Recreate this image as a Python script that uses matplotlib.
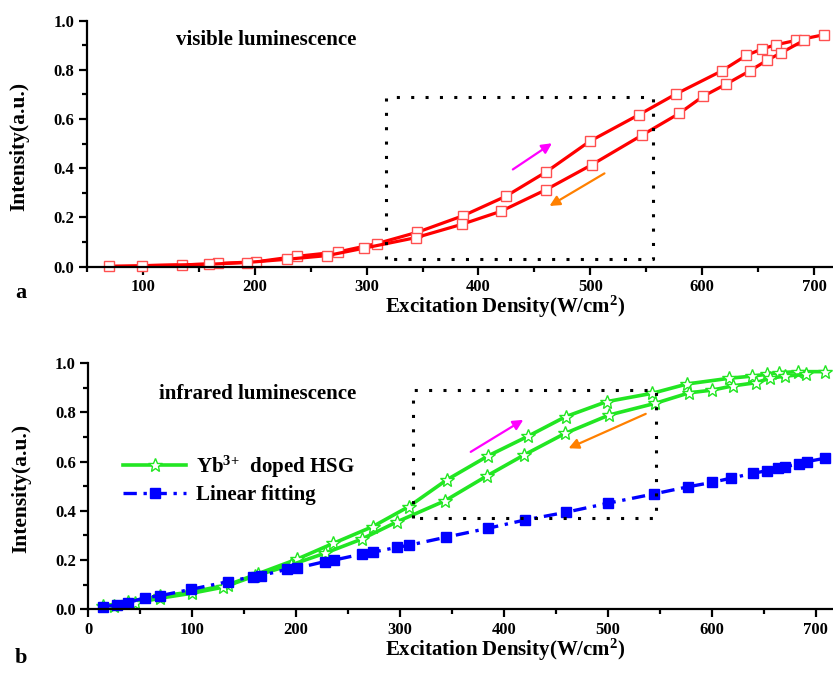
import numpy as np
import matplotlib
matplotlib.use('Agg')
import matplotlib.pyplot as plt

plt.rcParams['font.family'] = 'Liberation Serif'
plt.rcParams['font.weight'] = 'bold'
plt.rcParams['mathtext.fontset'] = 'custom'
plt.rcParams['mathtext.rm'] = 'Liberation Serif:bold'
plt.rcParams['mathtext.bf'] = 'Liberation Serif:bold'
plt.rcParams['mathtext.default'] = 'bf'

# panel a: visible luminescence, up sweep and down sweep
vis_up_x = [70, 135, 166.8, 201.5, 237.4, 274.6, 309.3, 345.4, 386.2, 424.4, 460.5,
            499.6, 543.6, 577, 617.6, 639.6, 653.5, 666, 684, 709]
vis_up_y = [0.002, 0.007, 0.013, 0.02, 0.042, 0.06, 0.094, 0.14, 0.207, 0.286, 0.385,
            0.51, 0.618, 0.703, 0.796, 0.859, 0.885, 0.902, 0.92, 0.943]
vis_dn_x = [691, 670.5, 658, 643, 621, 601, 579.5, 546, 501.6, 460, 420, 385, 344,
            297.5, 264.6, 228.5, 192.7, 159.5, 99.3]
vis_dn_y = [0.92, 0.869, 0.839, 0.797, 0.741, 0.693, 0.623, 0.534, 0.415, 0.312, 0.225,
            0.172, 0.118, 0.075, 0.045, 0.03, 0.017, 0.01, 0.004]

# panel b: infrared luminescence
ir_up_x = [14.4, 38, 69, 99.5, 134.8, 163.6, 200.5, 235.8, 273.7, 308.3, 345, 385,
           423.5, 459.4, 498.9, 542.8, 576.5, 616.9, 639, 652.9, 664.7, 683.3, 709]
ir_up_y = [0.013, 0.03, 0.054, 0.07, 0.1, 0.145, 0.203, 0.268, 0.336, 0.417, 0.526, 0.624,
           0.704, 0.783, 0.844, 0.878, 0.916, 0.939, 0.948, 0.955, 0.962, 0.966, 0.966]
ir_dn_x = [690.8, 670.5, 656, 642.6, 620.2, 600.6, 578.4, 545.5, 501.5, 458.9, 419.3,
           384, 343.3, 297.4, 263, 227.8, 195, 160, 130, 99.5, 69, 45, 25]
ir_dn_y = [0.955, 0.948, 0.939, 0.921, 0.908, 0.891, 0.88, 0.837, 0.79, 0.715, 0.627,
           0.543, 0.441, 0.356, 0.285, 0.228, 0.18, 0.135, 0.09, 0.065, 0.045, 0.025, 0.012]
fit_x = [14.4, 27.3, 38.4, 54.5, 69, 98.8, 134.1, 158.8, 166.3, 191.6, 200.5, 227.8,
         236.5, 263, 273.7, 297.4, 308.3, 344.3, 384.4, 420.3, 459.4, 500, 544.5, 577.5,
         600.6, 618.6, 640, 652.9, 664, 670.5, 684, 691.4, 709]
fit_y = [0.011, 0.017, 0.027, 0.047, 0.055, 0.081, 0.112, 0.133, 0.137, 0.163, 0.167,
         0.194, 0.2, 0.224, 0.232, 0.252, 0.26, 0.293, 0.329, 0.363, 0.394, 0.431, 0.469,
         0.498, 0.516, 0.533, 0.553, 0.563, 0.573, 0.58, 0.59, 0.6, 0.614]

red = '#FF0000'
green = '#22E622'
blue = '#0000FF'

fig = plt.figure(figsize=(8.33, 6.76), dpi=100)
ax1 = fig.add_axes([0.1044, 0.6055, 0.8956, 0.3639])
ax2 = fig.add_axes([0.106, 0.0987, 0.894, 0.3639])


def style_axis(ax, xlim, xmajor):
    for s in ['top', 'right']:
        ax.spines[s].set_visible(False)
    for s in ['left', 'bottom']:
        ax.spines[s].set_linewidth(1.6)
    ax.set_xlim(*xlim)
    ax.set_ylim(0, 1.0)
    ax.set_xticks(xmajor)
    ax.set_xticks(np.arange(50, 750, 100), minor=True)
    ax.set_yticks(np.arange(0, 1.01, 0.2))
    ax.set_yticks(np.arange(0.1, 1.0, 0.2), minor=True)
    ax.yaxis.set_major_formatter(matplotlib.ticker.FormatStrFormatter('%.1f'))
    ax.tick_params(which='major', direction='out', length=6, width=1.6, labelsize=12, pad=3)
    ax.tick_params(which='minor', direction='out', length=3.5, width=1.6)
    ax.set_xlabel('Excitation Density(W/cm$^{2}$)', fontsize=15, fontweight='bold')
    ax.set_ylabel('Intensity(a.u.)', fontsize=15.5, fontweight='bold')
    ax.xaxis.set_label_coords(0.56, -0.11)
    ax.yaxis.set_label_coords(-0.077, 0.49)


# ---- panel a
for xs, ys in [(vis_up_x, vis_up_y), (vis_dn_x, vis_dn_y)]:
    ax1.plot(xs, ys, color=red, lw=2.3, marker='s', ms=7.5, mfc='white',
             mec='#FF5050', mew=1.0, clip_on=False)
style_axis(ax1, (60, 717), np.arange(100, 800, 100))
ax1.plot([317, 317, 556, 556, 317], [0.033, 0.689, 0.689, 0.033, 0.033], color='black',
         lw=2.2, ls=(0, (1, 3.7)))
ax1.annotate('', xy=(467.8, 0.508), xytext=(428.7, 0.389),
             arrowprops=dict(arrowstyle='-|>', color='#FF00FF', lw=1.6, mutation_scale=15))
ax1.annotate('', xy=(461.4, 0.241), xytext=(514.8, 0.385),
             arrowprops=dict(arrowstyle='-|>', color='#FF8000', lw=1.6, mutation_scale=15))
ax1.text(129.5, 0.92, 'visible luminescence', fontsize=15, fontweight='bold', va='center')
fig.text(0.018, 0.566, 'a', fontsize=16, fontweight='bold', va='center')

# ---- panel b
ax2.plot(ir_up_x, ir_up_y, color=green, lw=2.6, marker='*', ms=10, mfc='white',
         mec=green, mew=1.0, clip_on=False, label='Yb$^{3{+}}$  doped HSG')
ax2.plot(ir_dn_x, ir_dn_y, color=green, lw=2.6, marker='*', ms=10, mfc='white',
         mec=green, mew=1.0, clip_on=False)
ax2.plot(fit_x, fit_y, color=blue, lw=2.4, ls=(0, (4, 2, 1, 2)), marker='s', ms=7.5,
         mfc=blue, mec=blue, clip_on=False, label='Linear fitting')
style_axis(ax2, (0, 716.8), np.arange(0, 800, 100))
ax2.plot([313, 313, 546, 546, 313], [0.37, 0.891, 0.891, 0.37, 0.37], color='black',
         lw=2.2, ls=(0, (1, 3.7)))
ax2.annotate('', xy=(421, 0.776), xytext=(365.8, 0.634),
             arrowprops=dict(arrowstyle='-|>', color='#FF00FF', lw=1.6, mutation_scale=15))
ax2.annotate('', xy=(459.8, 0.65), xytext=(539, 0.799),
             arrowprops=dict(arrowstyle='-|>', color='#FF8000', lw=1.6, mutation_scale=15))
ax2.text(68, 0.875, 'infrared luminescence', fontsize=15, fontweight='bold', va='center')
ax2.legend(loc='center left', bbox_to_anchor=(0.047, 0.528), frameon=False,
           handlelength=3.0, handletextpad=0.5, labelspacing=0.25, borderpad=0,
           borderaxespad=0, prop={'weight': 'bold', 'size': 15})
fig.text(0.018, 0.027, 'b', fontsize=16, fontweight='bold', va='center')

fig.savefig('out.png', dpi=100)
